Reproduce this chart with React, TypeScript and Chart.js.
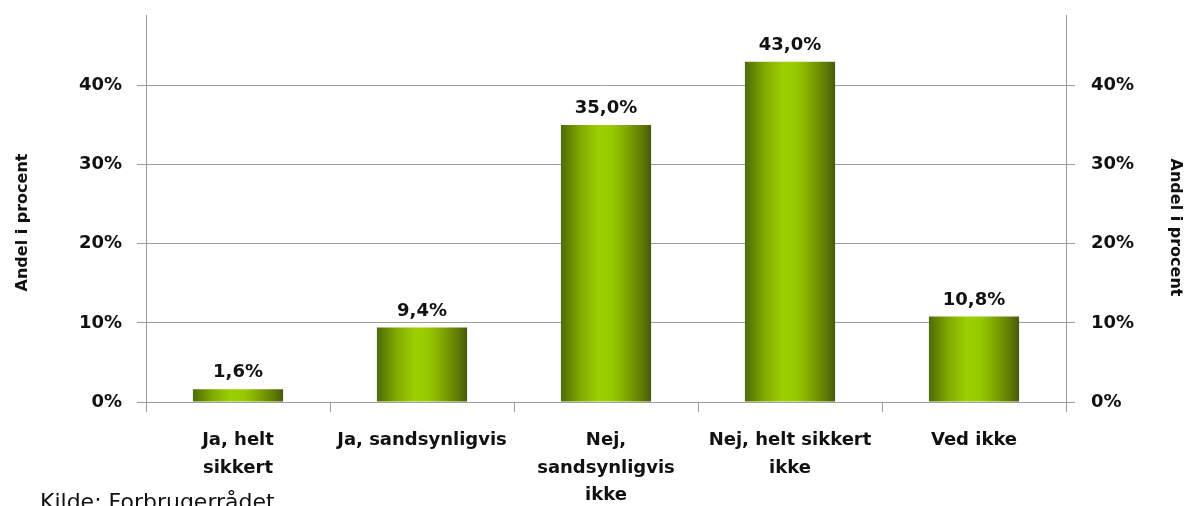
import React, { useEffect, useRef } from "react";
import { Chart, registerables } from "chart.js";

Chart.register(...registerables);

const categories: string[][] = [
  ["Ja, helt", "sikkert"],
  ["Ja, sandsynligvis"],
  ["Nej,", "sandsynligvis", "ikke"],
  ["Nej, helt sikkert", "ikke"],
  ["Ved ikke"],
];
const shares: number[] = [1.6, 9.4, 35.0, 43.0, 10.8];
const yTicks: number[] = [0, 10, 20, 30, 40];
const axisTitle = "Andel i procent";
const sourceNote = "Kilde: Forbrugerrådet";

const FONT = "'DejaVu Sans', sans-serif";
const GRID = "#9c9c9c";
const BAR_PCT = 0.49;

const fmt = (v: number) => v.toFixed(1).replace(".", ",") + "%";

const valueLabels = {
  id: "valueLabels",
  afterDatasetsDraw(chart: any) {
    const ctx = chart.ctx;
    const meta = chart.getDatasetMeta(0);
    ctx.save();
    ctx.font = `bold 18px ${FONT}`;
    ctx.fillStyle = "#111";
    ctx.textAlign = "center";
    ctx.textBaseline = "alphabetic";
    meta.data.forEach((bar: any, i: number) => {
      ctx.fillText(fmt(shares[i]), bar.x, bar.y - 12);
    });
    ctx.restore();
  },
};

const extraText = {
  id: "extraText",
  afterDraw(chart: any) {
    const ctx = chart.ctx;
    const ca = chart.chartArea;
    const midY = (ca.top + ca.bottom) / 2;
    ctx.save();
    ctx.fillStyle = "#111";
    ctx.textAlign = "center";
    ctx.textBaseline = "middle";
    ctx.font = `bold 16px ${FONT}`;
    ctx.save();
    ctx.translate(23, midY + 14);
    ctx.rotate(-Math.PI / 2);
    ctx.fillText(axisTitle, 0, 0);
    ctx.restore();
    ctx.save();
    ctx.translate(chart.width - 13, midY + 19);
    ctx.rotate(Math.PI / 2);
    ctx.fillText(axisTitle, 0, 0);
    ctx.restore();
    ctx.font = `22px ${FONT}`;
    ctx.textAlign = "left";
    ctx.textBaseline = "alphabetic";
    ctx.fillText(sourceNote, 40, 509);
    ctx.restore();
  },
};

export default function App() {
  const ref = useRef<HTMLCanvasElement>(null);
  useEffect(() => {
    if (!ref.current) return;
    const tickFont = { family: FONT, size: 18, weight: "bold" as const };
    const chart = new Chart(ref.current, {
      type: "bar",
      data: {
        labels: categories,
        datasets: [
          {
            data: shares,
            yAxisID: "y",
            backgroundColor: (c: any) => {
              const ch = c.chart;
              const xs = ch.scales?.x;
              if (!xs || !ch.chartArea || c.dataIndex === undefined) return "#8cbf00";
              const center = xs.getPixelForValue(c.dataIndex);
              const half = ((xs.width / categories.length) * BAR_PCT) / 2;
              const g = ch.ctx.createLinearGradient(center - half, 0, center + half, 0);
              g.addColorStop(0, "#4e6b06");
              g.addColorStop(0.2, "#7ca600");
              g.addColorStop(0.42, "#9ccf00");
              g.addColorStop(0.56, "#99cc00");
              g.addColorStop(0.76, "#7a9f00");
              g.addColorStop(0.9, "#5d7a05");
              g.addColorStop(1, "#465a0c");
              return g;
            },
            borderWidth: 0,
            categoryPercentage: 1,
            barPercentage: BAR_PCT,
          },
        ],
      },
      options: {
        animation: false,
        responsive: false,
        layout: { padding: { top: 15, left: 0, right: 0, bottom: 0 } },
        plugins: { legend: { display: false }, tooltip: { enabled: false } },
        scales: {
          x: {
            type: "category",
            offset: true,
            grid: {
              offset: true,
              drawOnChartArea: false,
              drawTicks: true,
              tickLength: 10,
              color: GRID,
            },
            border: { display: true, color: GRID, width: 1 },
            ticks: {
              autoSkip: false,
              maxRotation: 0,
              minRotation: 0,
              padding: 14,
              color: "#111",
              font: { ...tickFont, lineHeight: 1.55 },
            },
            afterFit: (s: any) => {
              s.height = 104;
              s.paddingLeft = 0;
              s.paddingRight = 0;
            },
          },
          y: {
            position: "left",
            min: 0,
            max: 48.9,
            afterBuildTicks: (s: any) => {
              s.ticks = yTicks.map((v) => ({ value: v }));
            },
            grid: { color: GRID, tickLength: 9, drawTicks: true },
            border: { display: true, color: GRID, width: 1 },
            ticks: {
              padding: 15,
              color: "#111",
              font: tickFont,
              callback: (v: any) => `${v}%`,
            },
            afterFit: (s: any) => {
              s.width = 146;
              s.paddingTop = 0;
              s.paddingBottom = 0;
            },
          },
          y2: {
            position: "right",
            min: 0,
            max: 48.9,
            afterBuildTicks: (s: any) => {
              s.ticks = yTicks.map((v) => ({ value: v }));
            },
            grid: { color: GRID, tickLength: 9, drawTicks: true, drawOnChartArea: false },
            border: { display: true, color: GRID, width: 1 },
            ticks: {
              padding: 16,
              color: "#111",
              font: tickFont,
              callback: (v: any) => `${v}%`,
            },
            afterFit: (s: any) => {
              s.width = 122;
              s.paddingTop = 0;
              s.paddingBottom = 0;
            },
          },
        },
      },
      plugins: [valueLabels, extraText],
    });
    return () => chart.destroy();
  }, []);

  return (
    <div style={{ position: "fixed", left: 0, top: 0, width: 1188, height: 506, background: "#fff" }}>
      <canvas ref={ref} width={1188} height={506} style={{ display: "block" }} />
    </div>
  );
}
